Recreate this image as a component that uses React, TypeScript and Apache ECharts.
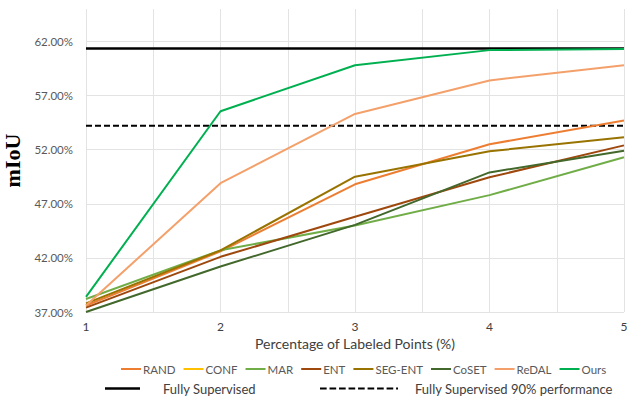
import React, { useEffect, useRef } from "react";
import * as echarts from "echarts";

const xValues = [1, 2, 3, 4, 5];
const randValues = [37.6, 42.6, 48.8, 52.5, 54.7];
const confValues: number[] = [];
const marValues = [38.2, 42.7, 45.0, 47.8, 51.3];
const entValues = [37.4, 42.1, 45.8, 49.45, 52.4];
const segEntValues = [37.8, 42.7, 49.5, 51.85, 53.15];
const cosetValues = [37.0, 41.2, 45.05, 49.9, 51.9];
const redalValues = [37.6, 48.9, 55.3, 58.4, 59.8];
const oursValues = [38.4, 55.55, 59.8, 61.2, 61.3];
const fullySupervised = 61.35;
const fullySupervised90 = 54.2;

const methodNames = ["RAND", "CONF", "MAR", "ENT", "SEG-ENT", "CoSET", "ReDAL", "Ours"];
const methodValues = [randValues, confValues, marValues, entValues, segEntValues, cosetValues, redalValues, oursValues];
const methodColors = ["#ED7D31", "#FFC000", "#70AD47", "#9E480E", "#997300", "#43682B", "#F4A06A", "#00B050"];

const dashIcon = "path://M0,0h7v2h-7zM10,0h7v2h-7zM20,0h7v2h-7zM30,0h7v2h-7zM40,0h7v2h-7zM50,0h7v2h-7zM60,0h7v2h-7zM70,0h7v2h-7zM80,0h2v2h-2z";

export default function App() {
  const ref = useRef<HTMLDivElement>(null);
  useEffect(() => {
    if (!ref.current) return;
    const chart = echarts.init(ref.current, null, { renderer: "svg" });
    const font = "Lato";
    const methodSeries = methodNames.map((name, k) => ({
      name,
      type: "line",
      data: methodValues[k].map((v, i) => [xValues[i], v]),
      symbol: "none",
      lineStyle: { width: 2, color: methodColors[k] },
      itemStyle: { color: methodColors[k] },
      z: 3,
    }));
    const refSeries = [
      {
        name: "Fully Supervised",
        type: "line",
        data: [[xValues[0], fullySupervised], [xValues[xValues.length - 1], fullySupervised]],
        symbol: "none",
        lineStyle: { width: 2.5, color: "#000" },
        itemStyle: { color: "#000" },
        z: 2,
      },
      {
        name: "Fully Supervised 90% performance",
        type: "line",
        data: [[xValues[0], fullySupervised90], [xValues[xValues.length - 1], fullySupervised90]],
        symbol: "none",
        lineStyle: { width: 2, color: "#000", type: [6, 3] },
        itemStyle: { color: "#000" },
        z: 2,
      },
    ];
    chart.setOption({
      animation: false,
      backgroundColor: "#fff",
      grid: { left: 86, right: 3, top: 9, bottom: 86, outerBoundsMode: "none", containLabel: false },
      xAxis: {
        type: "value",
        min: 1,
        max: 5,
        interval: 0.5,
        name: "Percentage of Labeled Points (%)",
        nameLocation: "middle",
        nameGap: 19,
        nameTextStyle: { fontFamily: font, fontSize: 14, color: "#404040" },
        axisLine: { show: false },
        axisTick: { show: false },
        axisLabel: {
          fontFamily: font,
          fontSize: 12,
          color: "#404040",
          margin: 8,
          formatter: (v: number) => (Number.isInteger(v) ? String(v) : ""),
        },
        splitLine: { show: true, lineStyle: { color: "#e3e3e3", width: 1 } },
      },
      yAxis: {
        type: "value",
        min: 37,
        max: 65,
        interval: 5,
        name: "mIoU",
        nameLocation: "middle",
        nameGap: 63,
        nameTextStyle: { fontFamily: "Liberation Serif", fontWeight: "bold", fontSize: 22, color: "#000" },
        axisLine: { show: false },
        axisTick: { show: false },
        axisLabel: {
          fontFamily: font,
          fontSize: 11.5,
          color: "#595959",
          margin: 13,
          showMaxLabel: false,
          formatter: (v: number) => v.toFixed(2) + "%",
        },
        splitLine: { show: true, showMaxLine: false, lineStyle: { color: "#e3e3e3", width: 1 } },
      },
      legend: [
        {
          data: methodNames,
          left: 116,
          top: 358,
          width: 520,
          icon: "rect",
          itemWidth: 20,
          itemHeight: 2,
          itemGap: 8,
          textStyle: { fontFamily: font, fontSize: 11.5, color: "#595959", padding: [0, 0, 0, -3] },
        },
        {
          data: ["Fully Supervised"],
          left: 100,
          top: 377,
          icon: "rect",
          itemWidth: 35,
          itemHeight: 2.5,
          textStyle: { fontFamily: font, fontSize: 13, color: "#404040", padding: [0, 0, 0, 18] },
        },
        {
          data: ["Fully Supervised 90% performance"],
          left: 315,
          top: 377,
          icon: dashIcon,
          itemWidth: 78,
          itemHeight: 2,
          textStyle: { fontFamily: font, fontSize: 13, color: "#404040", padding: [0, 0, 0, 12] },
        },
      ],
      series: [...refSeries, ...methodSeries],
    });
    return () => chart.dispose();
  }, []);
  return <div ref={ref} style={{ width: 627, height: 398, position: "absolute", left: 0, top: 0 }} />;
}
